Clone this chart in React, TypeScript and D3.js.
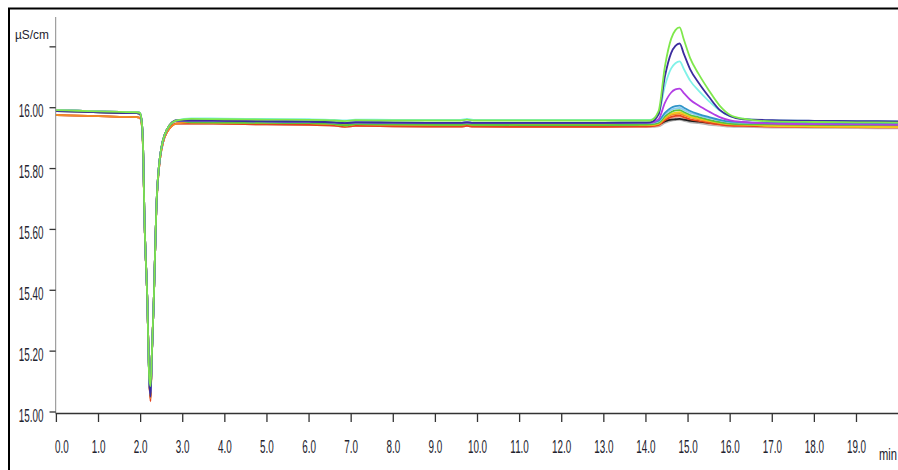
import React from "react";
import * as d3 from "d3";

// Retention time (min) at which every trace is sampled
const times = [
  0, 0.5, 1.0, 1.5, 1.9, 1.98,
  2.026, 2.064, 2.087, 2.159, 2.206, 2.235, 2.263, 2.313, 2.372, 2.46, 2.62, 2.86,
  3.2, 4.0, 5.0, 6.0, 6.6, 6.85, 7.1, 8.0, 9.0, 9.6, 9.75, 9.9, 11.0, 12.0, 13.0, 13.8, 14.1,
  14.3, 14.45, 14.6, 14.7, 14.8, 14.9, 15.05, 15.25, 15.5, 15.75, 16.0, 16.3,
  17.0, 18.0, 19.0, 20.0,
];

// Conductivity (µS/cm) of each overlaid run
const grayTrace = [
  15.976, 15.974, 15.972, 15.970, 15.969, 15.967,
  15.945, 15.830, 15.660, 15.368, 15.105, 15.045, 15.171, 15.368, 15.660, 15.830, 15.918, 15.948,
  15.948, 15.947, 15.945, 15.944, 15.941, 15.938, 15.940, 15.939, 15.938, 15.938, 15.940, 15.938, 15.937, 15.937, 15.937, 15.938, 15.937,
  15.939, 15.950, 15.957, 15.959, 15.960, 15.957, 15.952, 15.949, 15.944, 15.941, 15.938, 15.937,
  15.935, 15.934, 15.933, 15.932,
];
const salmonTrace = [
  15.976, 15.974, 15.972, 15.970, 15.969, 15.967,
  15.945, 15.830, 15.660, 15.368, 15.105, 15.040, 15.171, 15.368, 15.660, 15.830, 15.918, 15.948,
  15.948, 15.947, 15.945, 15.944, 15.941, 15.938, 15.940, 15.939, 15.938, 15.938, 15.940, 15.938, 15.937, 15.937, 15.937, 15.938, 15.938,
  15.941, 15.957, 15.966, 15.969, 15.970, 15.966, 15.959, 15.954, 15.948, 15.943, 15.940, 15.939,
  15.937, 15.936, 15.935, 15.934,
];
const blackTrace = [
  15.989, 15.987, 15.985, 15.983, 15.982, 15.980,
  15.955, 15.838, 15.664, 15.368, 15.105, 15.050, 15.171, 15.368, 15.664, 15.838, 15.927, 15.958,
  15.952, 15.951, 15.950, 15.949, 15.946, 15.943, 15.946, 15.945, 15.944, 15.944, 15.946, 15.944, 15.943, 15.943, 15.943, 15.944, 15.944,
  15.946, 15.955, 15.961, 15.962, 15.963, 15.961, 15.957, 15.954, 15.950, 15.947, 15.945, 15.944,
  15.942, 15.941, 15.940, 15.939,
];
const redTrace = [
  15.976, 15.974, 15.972, 15.970, 15.969, 15.967,
  15.945, 15.830, 15.660, 15.368, 15.105, 15.035, 15.171, 15.368, 15.660, 15.830, 15.918, 15.948,
  15.948, 15.947, 15.945, 15.944, 15.941, 15.937, 15.940, 15.939, 15.938, 15.938, 15.940, 15.938, 15.937, 15.937, 15.937, 15.938, 15.939,
  15.943, 15.959, 15.970, 15.973, 15.974, 15.969, 15.962, 15.957, 15.950, 15.945, 15.941, 15.940,
  15.938, 15.937, 15.936, 15.935,
];
const orangeTrace = [
  15.976, 15.974, 15.972, 15.970, 15.969, 15.967,
  15.945, 15.830, 15.660, 15.368, 15.105, 15.045, 15.171, 15.368, 15.660, 15.830, 15.918, 15.948,
  15.952, 15.951, 15.950, 15.949, 15.946, 15.942, 15.946, 15.945, 15.944, 15.944, 15.946, 15.944, 15.943, 15.943, 15.943, 15.944, 15.943,
  15.947, 15.964, 15.976, 15.979, 15.980, 15.975, 15.968, 15.962, 15.955, 15.949, 15.945, 15.944,
  15.941, 15.940, 15.939, 15.938,
];
const yellowTrace = [
  15.992, 15.990, 15.988, 15.986, 15.985, 15.983,
  15.955, 15.838, 15.664, 15.368, 15.105, 15.055, 15.171, 15.368, 15.664, 15.838, 15.927, 15.958,
  15.952, 15.951, 15.950, 15.949, 15.946, 15.942, 15.946, 15.945, 15.944, 15.944, 15.946, 15.944, 15.943, 15.943, 15.943, 15.944, 15.944,
  15.948, 15.968, 15.980, 15.984, 15.985, 15.980, 15.971, 15.965, 15.957, 15.951, 15.946, 15.945,
  15.940, 15.938, 15.937, 15.936,
];
const greenTrace = [
  15.992, 15.990, 15.988, 15.986, 15.985, 15.983,
  15.955, 15.838, 15.664, 15.368, 15.105, 15.075, 15.171, 15.368, 15.664, 15.838, 15.927, 15.958,
  15.952, 15.951, 15.950, 15.949, 15.946, 15.942, 15.946, 15.945, 15.944, 15.944, 15.946, 15.944, 15.943, 15.943, 15.943, 15.944, 15.945,
  15.950, 15.972, 15.986, 15.991, 15.992, 15.986, 15.976, 15.969, 15.960, 15.953, 15.948, 15.946,
  15.945, 15.944, 15.943, 15.943,
];
const lightBlueTrace = [
  15.992, 15.990, 15.988, 15.986, 15.985, 15.983,
  15.955, 15.838, 15.664, 15.368, 15.105, 15.060, 15.171, 15.368, 15.664, 15.838, 15.927, 15.958,
  15.958, 15.957, 15.955, 15.954, 15.952, 15.949, 15.952, 15.951, 15.950, 15.950, 15.952, 15.950, 15.950, 15.950, 15.950, 15.951, 15.950,
  15.955, 15.978, 15.993, 15.998, 15.999, 15.993, 15.983, 15.975, 15.966, 15.958, 15.953, 15.951,
  15.949, 15.948, 15.947, 15.946,
];
const tealTrace = [
  15.992, 15.990, 15.988, 15.986, 15.985, 15.983,
  15.955, 15.838, 15.664, 15.368, 15.105, 15.060, 15.171, 15.368, 15.664, 15.838, 15.927, 15.958,
  15.958, 15.957, 15.955, 15.954, 15.952, 15.949, 15.952, 15.951, 15.950, 15.950, 15.952, 15.950, 15.950, 15.950, 15.950, 15.951, 15.951,
  15.957, 15.983, 16.000, 16.005, 16.007, 16.000, 15.989, 15.979, 15.969, 15.960, 15.954, 15.952,
  15.951, 15.950, 15.949, 15.949,
];
const purpleTrace = [
  15.992, 15.990, 15.988, 15.986, 15.985, 15.983,
  15.955, 15.838, 15.664, 15.368, 15.105, 15.060, 15.171, 15.368, 15.664, 15.838, 15.927, 15.958,
  15.958, 15.957, 15.955, 15.954, 15.952, 15.949, 15.952, 15.951, 15.950, 15.950, 15.952, 15.950, 15.950, 15.950, 15.950, 15.951, 15.951,
  15.962, 16.016, 16.050, 16.060, 16.063, 16.048, 16.026, 16.007, 15.987, 15.969, 15.958, 15.953,
  15.948, 15.946, 15.945, 15.944,
];
const cyanTrace = [
  15.992, 15.990, 15.988, 15.986, 15.985, 15.983,
  15.955, 15.838, 15.664, 15.368, 15.105, 15.065, 15.171, 15.368, 15.664, 15.838, 15.927, 15.958,
  15.965, 15.964, 15.963, 15.962, 15.960, 15.958, 15.961, 15.960, 15.960, 15.960, 15.963, 15.960, 15.960, 15.960, 15.960, 15.960, 15.960,
  15.979, 16.071, 16.129, 16.146, 16.152, 16.127, 16.089, 16.056, 16.021, 15.991, 15.972, 15.964,
  15.958, 15.957, 15.956, 15.955,
];
const navyTrace = [
  15.989, 15.987, 15.985, 15.983, 15.982, 15.980,
  15.955, 15.838, 15.664, 15.368, 15.105, 15.050, 15.171, 15.368, 15.664, 15.838, 15.927, 15.958,
  15.958, 15.957, 15.955, 15.954, 15.952, 15.949, 15.952, 15.951, 15.950, 15.950, 15.952, 15.950, 15.950, 15.950, 15.950, 15.951, 15.952,
  15.978, 16.102, 16.180, 16.203, 16.211, 16.177, 16.126, 16.082, 16.035, 15.993, 15.972, 15.962,
  15.959, 15.957, 15.956, 15.955,
];
const limeTrace = [
  15.992, 15.990, 15.988, 15.986, 15.985, 15.983,
  15.955, 15.838, 15.664, 15.368, 15.110, 15.085, 15.175, 15.368, 15.664, 15.838, 15.927, 15.958,
  15.963, 15.962, 15.961, 15.960, 15.958, 15.956, 15.959, 15.958, 15.958, 15.958, 15.961, 15.958, 15.958, 15.958, 15.958, 15.958, 15.958,
  15.989, 16.135, 16.227, 16.255, 16.264, 16.224, 16.163, 16.111, 16.056, 16.007, 15.976, 15.964,
  15.955, 15.953, 15.952, 15.951,
];

// Axis ticks
const xTicks = [0, 1, 2, 3, 4, 5, 6, 7, 8, 9, 10, 11, 12, 13, 14, 15, 16, 17, 18, 19];
const yTicks = [15.0, 15.2, 15.4, 15.6, 15.8, 16.0, 16.2];
const yTickLabels = ["15.00", "15.20", "15.40", "15.60", "15.80", "16.00", ""];
const yUnit = "µS/cm";
const xUnit = "min";

// Drawing order, bottom to top
const traces: [number[], string][] = [
  [grayTrace, "#b6b6b6"],
  [salmonTrace, "#f3a696"],
  [blackTrace, "#1c1c1c"],
  [redTrace, "#e4421e"],
  [orangeTrace, "#f28c26"],
  [yellowTrace, "#efcd1a"],
  [greenTrace, "#58c43c"],
  [lightBlueTrace, "#8ccdef"],
  [tealTrace, "#2f95c8"],
  [purpleTrace, "#b23ee4"],
  [cyanTrace, "#80f2e8"],
  [navyTrace, "#3b2c9e"],
  [limeTrace, "#7fe84c"],
];

const FONT = "'Liberation Sans', Arial, sans-serif";
const TEXT = "#23232e";

export default function App() {
  const W = 898;
  const H = 470;
  const left = 55.7;
  const bottom = 413.5;

  const x = d3.scaleLinear().domain([0, 20]).range([56.4, 898.6]);
  const y = d3.scaleLinear().domain([15, 16]).range([412, 107.7]);

  const line = d3
    .line<number>()
    .x((_, i) => x(times[i]))
    .y((v) => y(v))
    .curve(d3.curveMonotoneX);

  return (
    <div style={{ position: "absolute", left: 0, top: 0 }}>
      <svg width={W} height={H} style={{ display: "block", background: "#fff" }}>
        <defs>
          <clipPath id="plot">
            <rect x={left} y={9} width={W - left} height={bottom - 9} />
          </clipPath>
        </defs>

        {/* outer frame */}
        <rect x={9} y={8.5} width={W + 20} height={H + 20} fill="none" stroke="#000" strokeWidth={2} />

        {/* traces */}
        <g clipPath="url(#plot)" fill="none" strokeLinejoin="round" strokeLinecap="round">
          {traces.map(([vals, color], k) => (
            <path key={k} d={line(vals) || ""} stroke={color} strokeWidth={1.8} />
          ))}
        </g>

        {/* y axis */}
        <line x1={left} x2={left} y1={17} y2={bottom} stroke="#8a8a8a" strokeWidth={1} />
        {yTicks.map((t, i) => (
          <g key={t}>
            <line x1={49.5} x2={left} y1={y(t)} y2={y(t)} stroke="#333" strokeWidth={1.3} />
            {yTickLabels[i] && (
              <text
                transform={`translate(43.5, ${y(t) + 9.5}) scale(0.52, 1)`}
                textAnchor="end"
                fontFamily={FONT}
                fontSize={19}
                fill={TEXT}
              >
                {yTickLabels[i]}
              </text>
            )}
          </g>
        ))}
        <text
          transform="translate(15, 38.5) scale(0.88, 1)"
          fontFamily={FONT}
          fontSize={13.5}
          fill={TEXT}
        >
          {yUnit}
        </text>

        {/* x axis */}
        <line x1={left} x2={W} y1={bottom} y2={bottom} stroke="#333" strokeWidth={1.6} />
        {xTicks.map((t, i) => (
          <g key={t}>
            <line x1={x(t)} x2={x(t)} y1={bottom} y2={422} stroke="#333" strokeWidth={1.3} />
            <text
              transform={`translate(${i === 0 ? 55 : x(t)}, 452.5) scale(0.52, 1)`}
              textAnchor={i === 0 ? "start" : "middle"}
              fontFamily={FONT}
              fontSize={19}
              fill={TEXT}
            >
              {`${t.toFixed(1)}`}
            </text>
          </g>
        ))}
        <text
          transform="translate(879, 460) scale(0.7, 1)"
          fontFamily={FONT}
          fontSize={16}
          fill={TEXT}
        >
          {xUnit}
        </text>
      </svg>
    </div>
  );
}
